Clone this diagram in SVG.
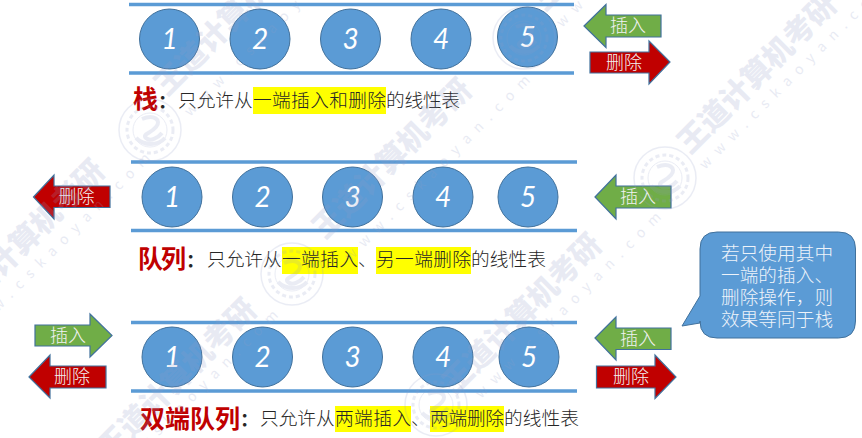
<svg xmlns="http://www.w3.org/2000/svg" width="862" height="438" viewBox="0 0 862 438">
<style>
text{font-family:"Noto Sans CJK SC","Noto Sans",sans-serif}
.bar{stroke:#5b9bd5;stroke-width:3.5;fill:none}
.c{fill:#5b9bd5;stroke:#41719c;stroke-width:1}
.n{font-family:Lato,"Open Sans",sans-serif;font-style:italic;font-size:28px;fill:#fff;text-anchor:middle}
.g{fill:#70ad47;stroke:#41719c;stroke-width:1.2}
.r{fill:#c00000;stroke:#41719c;stroke-width:1.2}
.al{font-size:18px;fill:#f2f2f2;text-anchor:middle;font-weight:300}
.t{font-size:25px;font-weight:700;fill:#c00000}
.b{font-size:18.7px;fill:#262626;font-weight:300}
.k{font-size:18.7px;fill:#262626;font-weight:700}
.y{fill:#ffff00}
.ct{font-size:18.6px;fill:#eef3fa;font-weight:300}
.wm{font-size:30px;font-weight:900;fill:#8f9bc8;opacity:.2}
.ww{font-size:14px;letter-spacing:8.4px;fill:#8f9bc8;opacity:.2}
.st{fill:none;stroke:#8f9bc8;opacity:.18}
</style>
<defs>
<g id="stamp" class="st">
<circle r="31" stroke-width="1.5"/>
<circle r="23" stroke-width="3" stroke-dasharray="4 3"/>
<circle r="17" stroke-width="1"/>
<path d="M-8 -11C4 -16 12 -10 6 -3S-8 4 -4 8S8 8 12 3M-14 8C-6 16 8 16 15 8" stroke-width="4"/>
</g>
</defs>

<g id="highlights">
<rect class="y" x="253" y="87" width="133" height="27"/>
<rect class="y" x="282" y="247" width="76" height="27"/>
<rect class="y" x="376" y="247" width="95" height="27"/>
<rect class="y" x="335" y="406" width="76" height="26"/>
<rect class="y" x="430" y="406" width="74" height="26"/>
</g>

<g id="stack">
<path class="bar" d="M129 4.5H574M129 73H574"/>
<g id="stack-1"><circle class="c" cx="169.5" cy="39" r="30"/><text class="n" x="169.5" y="49">1</text></g>
<g id="stack-2"><circle class="c" cx="260" cy="39" r="30"/><text class="n" x="260" y="49">2</text></g>
<g id="stack-3"><circle class="c" cx="350.5" cy="39" r="30"/><text class="n" x="350.5" y="49">3</text></g>
<g id="stack-4"><circle class="c" cx="441" cy="39" r="30"/><text class="n" x="441" y="49">4</text></g>
<g id="stack-5"><circle class="c" cx="527.5" cy="37" r="30"/><text class="n" x="527.5" y="47">5</text></g>
<g id="stack-insert"><path class="g" d="M584 26L606 4.5V15H661V37H606V47.5Z"/><text class="al" x="628" y="32">插入</text></g>
<g id="stack-delete"><path class="r" d="M590 52H649V41L670 62L649 84V73H590Z"/><text class="al" x="624" y="69">删除</text></g>
<g id="stack-label">
<text class="t" x="133" y="108">栈</text><text class="k" x="158" y="108">：</text>
<text class="b" x="178" y="107">只允许从</text><text class="b" x="253" y="107" textLength="133">一端插入和删除</text><text class="b" x="386" y="107" textLength="74">的线性表</text>
</g>
</g>

<g id="queue">
<path class="bar" d="M131 162H577M131 230.500H577"/>
<g id="queue-1"><circle class="c" cx="172" cy="197" r="30"/><text class="n" x="172" y="207">1</text></g>
<g id="queue-2"><circle class="c" cx="262.500" cy="197" r="30"/><text class="n" x="262.500" y="207">2</text></g>
<g id="queue-3"><circle class="c" cx="352.500" cy="197" r="30"/><text class="n" x="352.500" y="207">3</text></g>
<g id="queue-4"><circle class="c" cx="443" cy="197" r="30"/><text class="n" x="443" y="207">4</text></g>
<g id="queue-5"><circle class="c" cx="528" cy="197" r="30"/><text class="n" x="528" y="207">5</text></g>
<g id="queue-delete"><path class="r" d="M33.500 197L54 175V186H110V207.500H54V219Z"/><text class="al" x="76.500" y="203">删除</text></g>
<g id="queue-insert"><path class="g" d="M595 197L616 175V186H671V208H616V219Z"/><text class="al" x="638" y="203">插入</text></g>
<g id="queue-label">
<text class="t" x="138" y="268" textLength="48">队列</text><text class="k" x="186" y="267">：</text>
<text class="b" x="207" y="266">只允许从</text><text class="b" x="282" y="266" textLength="76">一端插入</text><text class="b" x="358" y="266">、</text><text class="b" x="376" y="266" textLength="95">另一端删除</text><text class="b" x="471" y="266" textLength="75">的线性表</text>
</g>
</g>

<g id="deque">
<path class="bar" d="M131 322.500H577M131 391H577"/>
<g id="deque-1"><circle class="c" cx="172" cy="357" r="30"/><text class="n" x="172" y="367">1</text></g>
<g id="deque-2"><circle class="c" cx="262.500" cy="357" r="30"/><text class="n" x="262.500" y="367">2</text></g>
<g id="deque-3"><circle class="c" cx="352.500" cy="357" r="30"/><text class="n" x="352.500" y="367">3</text></g>
<g id="deque-4"><circle class="c" cx="443" cy="357" r="30"/><text class="n" x="443" y="367">4</text></g>
<g id="deque-5"><circle class="c" cx="529" cy="357" r="30"/><text class="n" x="529" y="367">5</text></g>
<g id="deque-left-insert"><path class="g" d="M35 325H90V314L112 335.500L90 357V346H35Z"/><text class="al" x="68" y="342">插入</text></g>
<g id="deque-left-delete"><path class="r" d="M29 377L50 355V366H106V388H50V398Z"/><text class="al" x="72" y="383">删除</text></g>
<g id="deque-right-insert"><path class="g" d="M595 338L616 317V328H671V349.500H616V360Z"/><text class="al" x="638" y="345">插入</text></g>
<g id="deque-right-delete"><path class="r" d="M596.500 366H655V355L676 377L655 398.500V388H596.500Z"/><text class="al" x="631" y="383">删除</text></g>
<g id="deque-label">
<text class="t" x="140" y="428" textLength="100">双端队列</text><text class="k" x="240" y="426">：</text>
<text class="b" x="260" y="425">只允许从</text><text class="b" x="335" y="425" textLength="76">两端插入</text><text class="b" x="411" y="425">、</text><text class="b" x="430" y="425" textLength="74">两端删除</text><text class="b" x="504" y="425" textLength="75">的线性表</text>
</g>
</g>

<g id="callout">
<path d="M717 232H838.500Q855.500 232 855.500 249V321Q855.500 338 838.500 338H717Q700 338 700 321V323L682 326L700 296V249Q700 232 717 232Z" fill="#5b9bd5" stroke="#41719c" stroke-width="1"/>
<text class="ct" x="721" y="260" textLength="112">若只使用其中</text>
<text class="ct" x="721" y="282" textLength="112">一端的插入、</text>
<text class="ct" x="721" y="304" textLength="112">删除操作，则</text>
<text class="ct" x="721" y="326" textLength="112">效果等同于栈</text>
</g>

<g id="watermark">
<use href="#stamp" x="150" y="130"/><use href="#stamp" x="665" y="178"/><use href="#stamp" x="524" y="38"/><use href="#stamp" x="292" y="274"/><use href="#stamp" x="436" y="405"/>
<text class="wm" transform="translate(167 97) rotate(-45)">王道计算机考研</text>
<text class="wm" transform="translate(690 155) rotate(-45)">王道计算机考研</text>
<text class="wm" transform="translate(545 12) rotate(-45)">王道计算机考研</text>
<text class="wm" transform="translate(325 240) rotate(-45)">王道计算机考研</text>
<text class="wm" transform="translate(-42 321) rotate(-45)">王道计算机考研</text>
<text class="wm" transform="translate(110 460) rotate(-45)">王道计算机考研</text>
<text class="wm" transform="translate(455 395) rotate(-45)">王道计算机考研</text>
<text class="ww" transform="translate(190 117) rotate(-45)">www.cskaoyan.com</text>
<text class="ww" transform="translate(705 170) rotate(-45)">www.cskaoyan.com</text>
<text class="ww" transform="translate(562 28) rotate(-45)">www.cskaoyan.com</text>
<text class="ww" transform="translate(350 262) rotate(-45)">www.cskaoyan.com</text>
<text class="ww" transform="translate(-30 340) rotate(-45)">www.cskaoyan.com</text>
<text class="ww" transform="translate(98 497) rotate(-45)">www.cskaoyan.com</text>
<text class="ww" transform="translate(481 399) rotate(-45)">www.cskaoyan.com</text>
</g>
</svg>
